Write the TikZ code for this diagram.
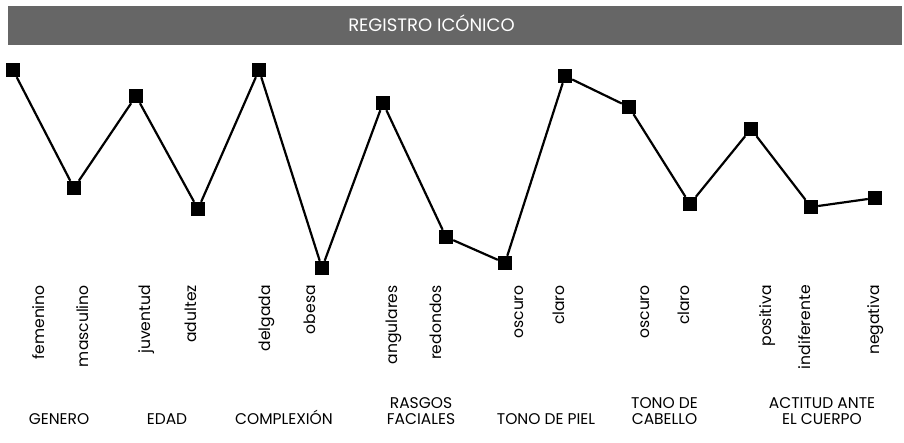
\documentclass[tikz,border=0pt]{standalone}
\usepackage{fontspec}
\setmainfont{Poppins}
\definecolor{barGray}{RGB}{102,102,102}
\tikzset{
  markBox/.style={fill=black, minimum size=14pt, inner sep=0pt},
  valueLabel/.style={rotate=90, anchor=east, inner sep=0pt, font=\fontsize{15.6}{15.6}\selectfont},
  groupLabel/.style={anchor=south, align=center, inner sep=0pt, font=\fontsize{15.5}{16}\selectfont},
}
\begin{document}
\begin{tikzpicture}[x=1pt,y=1pt,yscale=-1,xscale=1]
\useasboundingbox (0,0) rectangle (904,442);

%Shape: Title bar
\fill [barGray] (8,6) rectangle (902,45);
\node (title) at (431.5,31) [anchor=base, inner sep=0pt, text=white, font=\fontsize{18}{18}\selectfont] {REGISTRO ICÓNICO};

%Markers
\node (m1) at (13,70) [markBox] {};
\node (m2) at (74,188) [markBox] {};
\node (m3) at (136,96) [markBox] {};
\node (m4) at (198,209) [markBox] {};
\node (m5) at (259,70) [markBox] {};
\node (m6) at (322,268) [markBox] {};
\node (m7) at (383,103) [markBox] {};
\node (m8) at (446,237) [markBox] {};
\node (m9) at (505,263) [markBox] {};
\node (m10) at (565,76) [markBox] {};
\node (m11) at (629,107) [markBox] {};
\node (m12) at (690,204) [markBox] {};
\node (m13) at (751,129) [markBox] {};
\node (m14) at (811,207) [markBox] {};
\node (m15) at (875,198) [markBox] {};

%Straight Lines
\draw [line width=2.2pt] (m1) -- (m2) -- (m3) -- (m4) -- (m5) -- (m6) -- (m7) -- (m8) -- (m9) -- (m10) -- (m11) -- (m12) -- (m13) -- (m14) -- (m15);

% Text Node
\node (femenino) at (38.5,285) [valueLabel] {femenino};
\node (masculino) at (82.5,285) [valueLabel] {masculino};
\node (juventud) at (146.5,285) [valueLabel] {juventud};
\node (adultez) at (191,285) [valueLabel] {adultez};
\node (delgada) at (266.5,285) [valueLabel] {delgada};
\node (obesa) at (310,285) [valueLabel] {obesa};
\node (angulares) at (394,285) [valueLabel] {angulares};
\node (redondos) at (436,285) [valueLabel] {redondos};
\node (oscuroPiel) at (519,285) [valueLabel] {oscuro};
\node (claroPiel) at (558.5,285) [valueLabel] {claro};
\node (oscuroCab) at (645,285) [valueLabel] {oscuro};
\node (claroCab) at (684,285) [valueLabel] {claro};
\node (positiva) at (767.5,285) [valueLabel] {positiva};
\node (indiferente) at (804.5,285) [valueLabel] {indiferente};
\node (negativa) at (876,285) [valueLabel] {negativa};

% Text Node
\node (genero) at (59,425) [groupLabel] {GENERO};
\node (edad) at (167,425) [groupLabel] {EDAD};
\node (complexion) at (284,425) [groupLabel] {COMPLEXIÓN};
\node (rasgos) at (421,425) [groupLabel] {RASGOS\\FACIALES};
\node (piel) at (546,425) [groupLabel] {TONO DE PIEL};
\node (cabello) at (664.5,425) [groupLabel] {TONO DE\\CABELLO};
\node (actitud) at (822,425) [groupLabel] {ACTITUD ANTE\\EL CUERPO};

\end{tikzpicture}
\end{document}
